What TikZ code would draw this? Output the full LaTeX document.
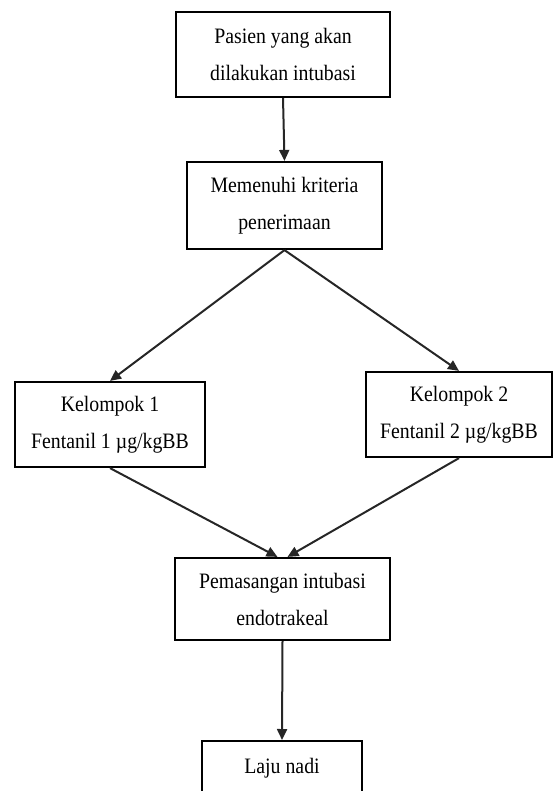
\documentclass[tikz,border=0pt]{standalone}
\usepackage{fontspec}
\setmainfont{Liberation Serif}
\newfontfamily\boxfont[FakeStretch=0.9]{Liberation Serif}
\usetikzlibrary{arrows.meta}
\begin{document}
\begin{tikzpicture}[x=1pt,y=-1pt,
  box/.style={draw=black,line width=2.2pt,rectangle,inner sep=0pt,align=center,
    font=\boxfont\fontsize{22}{37}\selectfont},
  arr/.style={draw=black!85,line width=2pt,-{Triangle[length=11pt,width=10pt]}},
  lbl/.style={inner sep=0pt,font=\boxfont\fontsize{22}{37}\selectfont}]
\useasboundingbox (0,0) rectangle (556,791);
\node[box,minimum width=214,minimum height=85] (b1) at (283,54.5) {Pasien yang akan\\dilakukan intubasi};
\node[box,minimum width=195,minimum height=87] (b2) at (284.5,205.5) {Memenuhi kriteria\\penerimaan};
\node[box,minimum width=190,minimum height=85] (b3) at (110,424.5) {Kelompok 1\\Fentanil 1 µg/kgBB};
\node[box,minimum width=186,minimum height=85] (b4) at (459,414.5) {Kelompok 2\\Fentanil 2 µg/kgBB};
\node[box,minimum width=215,minimum height=82] (b5) at (282.5,599) {Pemasangan intubasi\\endotrakeal};
\node[box,minimum width=160,minimum height=90,anchor=north] (b6) at (282,740) {};
\node[lbl,anchor=base] (t6) at (282,773) {Laju nadi};
\draw[arr] (b1.south) -- (b2.north);
\draw[arr] (b2.south) -- (b3.north);
\draw[arr] (b2.south) -- (b4.north);
\draw[arr] (b3.south) -- ([xshift=-5pt]b5.north);
\draw[arr] (b4.south) -- ([xshift=5pt]b5.north);
\draw[arr] (b5.south) -- (b6.north);
\end{tikzpicture}
\end{document}
